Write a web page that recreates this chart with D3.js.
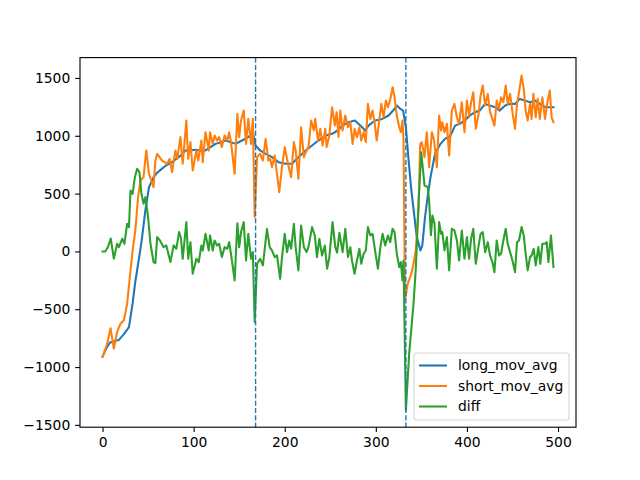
<!DOCTYPE html>
<html>
<head>
<meta charset="utf-8">
<script src="https://cdn.jsdelivr.net/npm/d3@7"></script>
<style>
  html, body { margin: 0; padding: 0; background: #fff; }
  svg { display: block; }
  text { font-family: "DejaVu Sans", sans-serif; }
</style>
</head>
<body>
<svg id="chart" width="640" height="480"></svg>
<script>
// ---- data (index, value) ----
const seriesNames = ["long_mov_avg", "short_mov_avg", "diff"];
const seriesColors = ["#1f77b4", "#ff7f0e", "#2ca02c"];

const longMovAvg = [[0,-910],[4,-840],[8,-790],[13,-775],[18,-765],[23,-720],[29,-655],[33,-450],[36,-260],[40,-60],[43,95],[47,354],[51,556],[56,642],[60,680],[65,714],[70,745],[76,771],[81,800],[86,830],[91,873],[97,875],[102,879],[108,870],[113,873],[118,900],[124,930],[130,945],[135,959],[141,945],[146,930],[152,955],[157,974],[162,1002],[165,1031],[168,916],[173,873],[179,844],[186,815],[193,772],[201,758],[208,758],[215,815],[223,873],[230,916],[237,959],[245,1002],[252,1017],[259,1050],[263,1088],[270,1117],[277,1132],[285,1074],[288,1045],[292,1088],[299,1132],[307,1146],[314,1175],[319,1218],[323,1261],[327,1232],[330,1218],[333,1074],[336,786],[339,527],[342,325],[345,124],[349,8],[351,51],[354,296],[357,480],[360,640],[365,844],[371,930],[376,973],[382,1002],[387,1088],[392,1103],[398,1132],[403,1175],[409,1204],[414,1218],[420,1276],[425,1261],[431,1247],[436,1218],[442,1261],[447,1276],[453,1276],[458,1319],[464,1304],[469,1290],[475,1304],[480,1276],[486,1247],[491,1247],[495,1247]];

const shortMovAvg = [[0,-913],[5,-800],[8.8,-665],[12.4,-841],[16,-697],[19.7,-625],[23.4,-596],[27,-452],[30.7,-164],[33,9],[36,181],[39,469],[41.7,613],[45,642],[48,873],[51,671],[56,556],[58,786],[60,844],[65.4,786],[71,758],[73.6,800],[76.4,685],[80,873],[82,800],[85.5,988],[88,758],[92,1132],[94,801],[96.5,945],[99,700],[103,873],[105,786],[108.5,959],[110,772],[113,1031],[116.6,873],[118,1031],[121,930],[123,1002],[125.7,959],[128,988],[131,902],[134,1002],[137,959],[139,1031],[141,945],[145,671],[148,1190],[150,988],[152,1132],[155,1218],[157.5,930],[160,1146],[163,930],[165,1146],[167,297],[169.6,815],[173,844],[176,786],[179,974],[182,786],[184,801],[186,729],[189,830],[191.5,671],[194,513],[197,729],[200,902],[202.5,801],[204,743],[207,642],[210,945],[212,873],[215,628],[218,1074],[221,815],[224,873],[226,902],[229,1132],[232,1046],[233.5,1146],[236.5,959],[239,1060],[241.6,916],[244.5,1060],[246,902],[249,1002],[252,1247],[255,1089],[257,1204],[259,990],[261,1218],[263.5,1045],[266.5,1175],[269.4,1074],[272,1117],[274.5,930],[276.7,1060],[279.3,988],[282,1074],[284,959],[286.6,1031],[289,945],[291.3,1276],[294,1146],[296.4,1218],[298.6,1117],[301,959],[303.7,1132],[306,1276],[308.5,1160],[311,1305],[313.3,1247],[316,1319],[318.4,1420],[320.6,1333],[323,1175],[325.7,1074],[327.5,1031],[329.3,1132],[330.4,973],[332,-424],[335,-280],[339,-193],[341.4,-107],[344,20],[347,380],[348.7,930],[350.5,944],[353.4,815],[356,1031],[358.5,728],[361.5,1031],[364,959],[367,728],[369.5,1175],[371.7,1045],[373,1117],[375.4,1031],[378,1103],[380.5,829],[383.4,1218],[386.3,1276],[389,1160],[391.4,1103],[394.4,1290],[397.3,1031],[400,1304],[402.4,1175],[404.6,1290],[407,1376],[409.7,1060],[412.6,1175],[415,1347],[417.4,1434],[420,1261],[422.9,1362],[425.4,1204],[428,1146],[430.2,1088],[432.7,1304],[435.3,1232],[437.5,1333],[440,1290],[442.6,1434],[444.8,1276],[447.4,1362],[450,1204],[452.8,1060],[455,1276],[457.2,1376],[460,1520],[462.4,1405],[464.5,1218],[466.7,1132],[469.3,1276],[471,1146],[473,1362],[475.5,1160],[477.7,1319],[480,1146],[482.8,1333],[485.7,1146],[488.7,1304],[491,1391],[493,1160],[495,1117]];

const diffSeries = [[0,0],[3,0],[6,40],[9,112],[12.4,-63],[16,66],[18,37],[21.6,110],[24,66],[27,239],[29,210],[30.7,527],[33,498],[35.5,642],[38,714],[40.5,685],[42.7,498],[45,412],[47,469],[50,296],[52.6,66],[56,-92],[58,-100],[60,124],[63,95],[67,37],[70,52],[74.5,-92],[78,52],[81,23],[84,167],[86,120],[88,-64],[92,253],[94,-64],[96.5,80],[99,-193],[103,-64],[105.6,-93],[108.5,51],[110,8],[113,152],[116.6,8],[118,138],[121,8],[123,95],[125.7,51],[128,66],[131,-49],[134,37],[137,23],[139,80],[141,-21],[145,-251],[148,244],[150,37],[152,167],[155,253],[157.5,-78],[160,152],[163,-64],[165,-6],[167,-610],[169.6,-107],[173,-64],[176,-121],[180.5,195],[183.5,37],[186,8],[189,-49],[191.5,-35],[195,-237],[197,-49],[200,152],[202.5,-6],[205,95],[207,23],[210,239],[212,37],[215,-165],[218,224],[221,37],[224,-6],[226,37],[230,210],[233,138],[235.4,-49],[238,109],[241,-35],[244,51],[246.5,-150],[249,-49],[252.5,253],[255.5,37],[257.5,-10],[260,160],[263.5,-6],[266.5,196],[269.4,-49],[272,37],[273.8,-78],[276.7,-193],[279.3,-78],[282,23],[284,-107],[286.6,-20],[289,8],[291.3,210],[294,138],[296.4,152],[298.6,37],[302.3,-150],[305,37],[307.4,152],[310.3,52],[313.3,138],[315.8,80],[318.4,196],[320.6,167],[323,-20],[325.7,-136],[327.5,-92],[329.3,-251],[330.4,-78],[333,-1374],[336.6,-884],[341.4,-452],[344,-135],[347,441],[349.8,858],[353.5,570],[357,556],[358.5,441],[360.5,140],[362.2,311],[364.4,239],[367,-150],[369.5,253],[371.7,153],[373,167],[375.4,9],[378,124],[380.5,-164],[383.4,196],[386.3,181],[389,95],[391.4,-78],[394.4,181],[397.3,-63],[400,124],[402.4,-63],[404.6,109],[407,196],[409.7,-107],[412.6,37],[415,153],[417.4,167],[420,-6],[422.9,80],[425.4,-35],[428,-92],[430.2,-179],[432.7,95],[435.3,-35],[437.5,-20],[440,95],[442.6,196],[444.8,66],[447.4,-6],[450,-78],[452.8,-179],[455,80],[457.2,95],[460,210],[462.4,138],[464.5,-20],[466.7,-164],[469.3,-49],[471,-35],[473.3,23],[475.5,-121],[478.4,37],[480.6,-107],[482.8,66],[485.7,66],[487.6,80],[489.4,-92],[492.3,138],[495,-136]];

const changePoints = [168, 333];
const xTicks = [0, 100, 200, 300, 400, 500];
const yTicks = [-1500, -1000, -500, 0, 500, 1000, 1500];
const xDomain = [-24.75, 519.75];
const yDomain = [-1520, 1676];

// ---- layout ----
const W = 640, H = 480;
const plotLeft = 80, plotRight = 576, plotTop = 57.6, plotBottom = 427.2;
const fontPx = 13.89;

const svg = d3.select("#chart");
svg.append("rect").attr("width", W).attr("height", H).attr("fill", "#fff");

const x = d3.scaleLinear().domain(xDomain).range([plotLeft, plotRight]);
const y = d3.scaleLinear().domain(yDomain).range([plotBottom, plotTop]);

const fmt = d => String(d).replace("-", "\u2212");

// lines
const line = d3.line().x(d => x(d[0])).y(d => y(d[1]));
const allSeries = [longMovAvg, shortMovAvg, diffSeries];
const gLines = svg.append("g");
allSeries.forEach((s, i) => {
  gLines.append("path")
    .datum(s)
    .attr("d", line)
    .attr("fill", "none")
    .attr("stroke", seriesColors[i])
    .attr("stroke-width", 2.08)
    .attr("stroke-linejoin", "round")
    .attr("stroke-linecap", "square");
});

// vertical dashed lines
svg.append("g").selectAll("line").data(changePoints).join("line")
  .attr("x1", d => x(d)).attr("x2", d => x(d))
  .attr("y1", plotTop).attr("y2", plotBottom)
  .attr("stroke", "#1f77b4")
  .attr("stroke-width", 1.39)
  .attr("stroke-dasharray", "5.1,2.2");

// axes
const xAxis = d3.axisBottom(x).tickValues(xTicks).tickFormat(fmt).tickSize(4.86).tickPadding(4.86);
const yAxis = d3.axisLeft(y).tickValues(yTicks).tickFormat(fmt).tickSize(4.86).tickPadding(4.86);

const gx = svg.append("g").attr("transform", `translate(0,${plotBottom})`).call(xAxis);
const gy = svg.append("g").attr("transform", `translate(${plotLeft},0)`).call(yAxis);
[gx, gy].forEach(g => {
  g.select(".domain").remove();
  g.selectAll(".tick line").attr("stroke", "#000").attr("stroke-width", 1.11);
  g.selectAll(".tick text").attr("fill", "#000")
    .style("font-family", "'DejaVu Sans', sans-serif").style("font-size", fontPx + "px");
});

// spines
svg.append("rect")
  .attr("x", plotLeft).attr("y", plotTop)
  .attr("width", plotRight - plotLeft).attr("height", plotBottom - plotTop)
  .attr("fill", "none").attr("stroke", "#000").attr("stroke-width", 1.11);

// legend
const lgX = 414, lgY = 353, lgW = 155, lgH = 67;
const lg = svg.append("g");
lg.append("rect")
  .attr("x", lgX).attr("y", lgY).attr("width", lgW).attr("height", lgH)
  .attr("rx", 2.8).attr("ry", 2.8)
  .attr("fill", "#fff").attr("fill-opacity", 0.8)
  .attr("stroke", "#cccccc").attr("stroke-opacity", 0.8).attr("stroke-width", 1.11);
const rowY = [365.5, 386, 406.5];
seriesNames.forEach((name, i) => {
  lg.append("line")
    .attr("x1", lgX + 5).attr("x2", lgX + 33)
    .attr("y1", rowY[i]).attr("y2", rowY[i])
    .attr("stroke", seriesColors[i]).attr("stroke-width", 2.08);
  lg.append("text")
    .attr("x", lgX + 44).attr("y", rowY[i] + 4.9)
    .attr("fill", "#000")
    .style("font-size", fontPx + "px")
    .text(name);
});
</script>
</body>
</html>
